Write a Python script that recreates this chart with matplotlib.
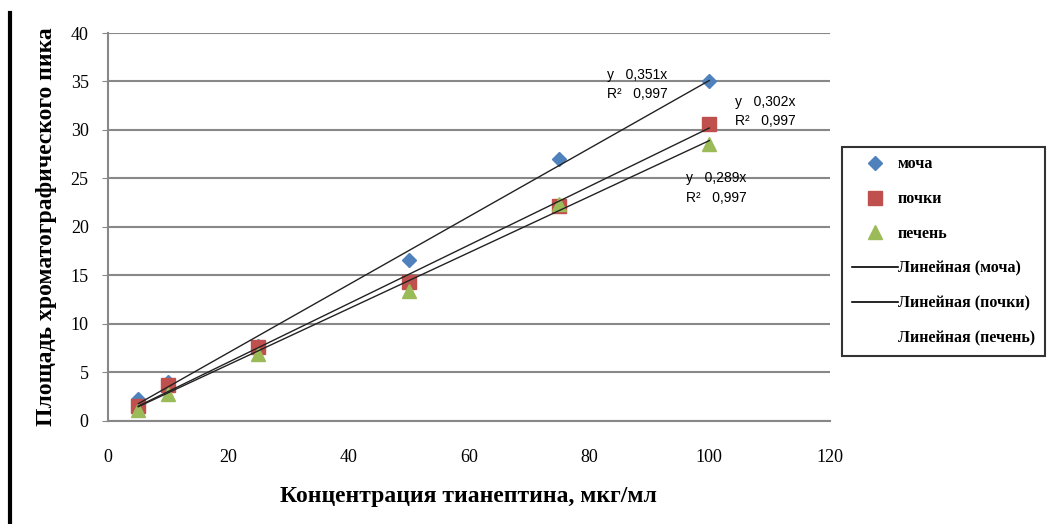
import matplotlib.pyplot as plt
from matplotlib.lines import Line2D
import numpy as np

# концентрации и площади пиков
conc = [5, 10, 25, 50, 75, 100]
mocha = [2.2, 4.0, 7.7, 16.6, 27.0, 35.0]
pochki = [1.5, 3.7, 7.6, 14.3, 22.2, 30.6]
pechen = [1.1, 2.8, 6.9, 13.4, 22.4, 28.6]
slopes = [0.351, 0.302, 0.289]
r2 = [0.997, 0.997, 0.997]
names = ["моча", "почки", "печень"]

colors = ["#4F81BD", "#C0504D", "#9BBB59"]
markers = ["D", "s", "^"]
msizes = [7, 10, 10]

fig = plt.figure(figsize=(10.5, 5.24), dpi=100)
ax = fig.add_axes([0.103, 0.197, 0.687, 0.74])

serif = "Liberation Serif"

for y, c, m, ms in zip([mocha, pochki, pechen], colors, markers, msizes):
    ax.plot(conc, y, linestyle="none", marker=m, color=c, markersize=ms, zorder=3)

xs = np.array([conc[0], conc[-1]])
for k in slopes:
    ax.plot(xs, k * xs, color="#222222", lw=1.0, zorder=4)

# подписи уравнений
eq_pos = [(83, 35.3), (104.2, 32.5), (96.2, 24.6)]
for (x, y), k, r in zip(eq_pos, slopes, r2):
    ax.text(x, y, "y   " + f"{k:.3f}".replace(".", ",") + "x", fontsize=10,
            family="Liberation Sans", zorder=5)
    ax.text(x, y - 2.0, "R²   " + f"{r:.3f}".replace(".", ","), fontsize=10,
            family="Liberation Sans", zorder=5)

ax.set_xlim(0, 120)
ax.set_ylim(0, 40)
ax.set_xticks(range(0, 121, 20))
ax.set_yticks(range(0, 41, 5))
ax.yaxis.grid(True, color="#888888", lw=1.5)
ax.set_axisbelow(True)
for s in ["top", "right"]:
    ax.spines[s].set_visible(False)
for s in ["left", "bottom"]:
    ax.spines[s].set_color("#888888")
    ax.spines[s].set_linewidth(1.5)
ax.tick_params(axis="x", length=0, pad=20)
ax.tick_params(axis="y", length=4, color="#888888", pad=10)
for lab in ax.get_xticklabels() + ax.get_yticklabels():
    lab.set_family(serif)
    lab.set_fontsize(13)

ax.set_xlabel("Концентрация тианептина, мкг/мл", family=serif, fontsize=17,
              fontweight="bold", labelpad=15)
ax.set_ylabel("Площадь хроматографического пика", family=serif, fontsize=17,
              fontweight="bold", labelpad=10)

handles = [Line2D([], [], linestyle="none", marker=m, color=c, markersize=ms)
           for c, m, ms in zip(colors, markers, msizes)]
handles += [Line2D([], [], color="black", lw=1.2),
            Line2D([], [], color="black", lw=1.2),
            Line2D([], [], color="white", lw=1.2)]
labels = names + ["Линейная (" + n + ")" for n in names]
leg = fig.legend(handles, labels, loc="upper left", bbox_to_anchor=(0.802, 0.72),
                 prop={"family": serif, "size": 11.5, "weight": "bold"}, frameon=True,
                 fancybox=False, borderpad=0.6, labelspacing=1.18, handlelength=2.9,
                 handletextpad=0.0, borderaxespad=0)
leg.get_frame().set_edgecolor("black")
leg.get_frame().set_linewidth(1.5)

fig.add_artist(Line2D([0.0095, 0.0095], [0.0, 0.975], color="black", lw=3,
                      transform=fig.transFigure))

fig.savefig("out.png", dpi=100)
